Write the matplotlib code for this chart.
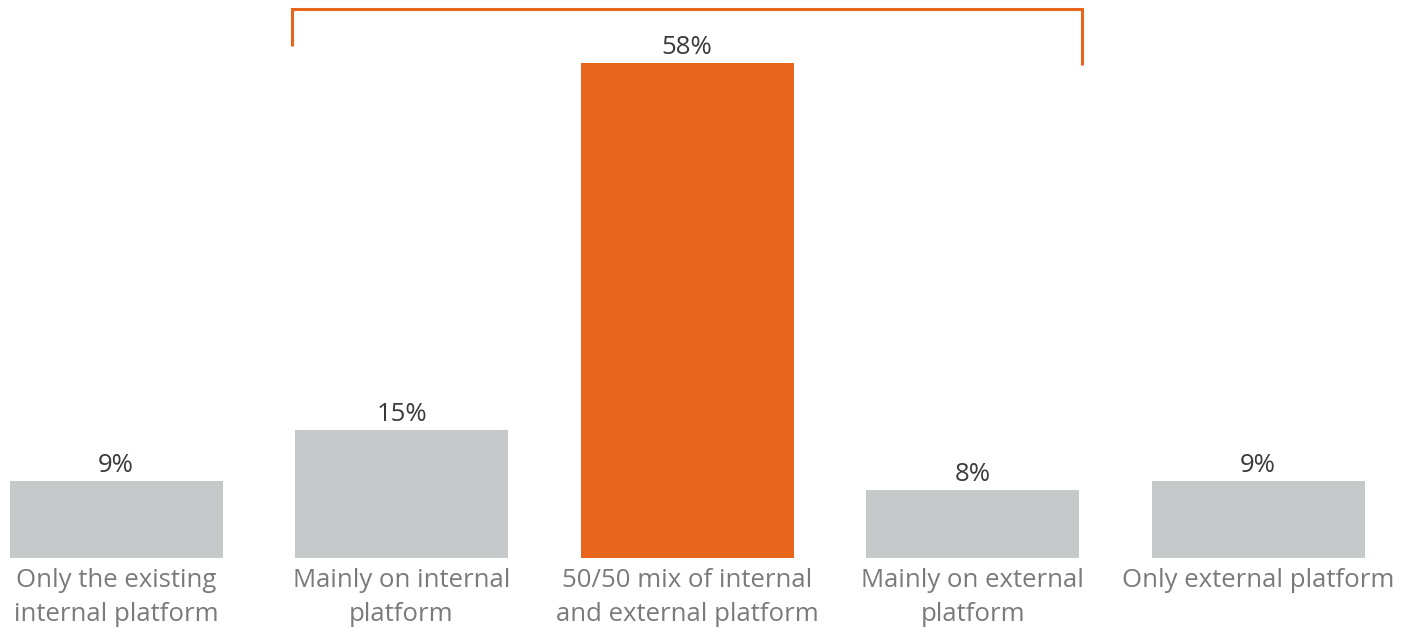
import matplotlib
matplotlib.use("Agg")
import matplotlib.pyplot as plt

categories = [
    "Only the existing\ninternal platform",
    "Mainly on internal\nplatform",
    "50/50 mix of internal\nand external platform",
    "Mainly on external\nplatform",
    "Only external platform",
]
values = [9, 15, 58, 8, 9]
highlight = 2

GRAY = "#C5C9C9"
ORANGE = "#E8661C"

plt.rcParams["font.family"] = ["Open Sans", "DejaVu Sans"]

fig = plt.figure(figsize=(14.04, 6.28), dpi=100)
ax = fig.add_axes([0, 0, 1, 1])
ax.set_xlim(-0.4063, 4.511)
ax.set_ylim(-8.2, 65.38)
ax.axis("off")

width = 0.746
xs = list(range(len(values)))
colors = [ORANGE if i == highlight else GRAY for i in xs]
ax.bar(xs, values, width=width, color=colors)

for x, v in zip(xs, values):
    ax.text(x, v + 0.35, f"{v}%", ha="center", va="bottom",
            fontsize=18.5, color="#3a3a3a")

for x, c in zip(xs, categories):
    ax.text(x, -1.2, c, ha="center", va="top", fontsize=18.5,
            color="#7a7a7a", linespacing=1.45)

# Bracket grouping the three middle answers
top = max(values)
bx0 = 1 - width / 2 - 0.01
bx1 = 3 + width / 2 + 0.01
ax.plot([bx0, bx0, bx1, bx1], [top + 2.0, top + 6.3, top + 6.3, top - 0.2],
        color=ORANGE, lw=2.2, solid_joinstyle="miter", solid_capstyle="butt")

fig.savefig("out.png", dpi=100)
